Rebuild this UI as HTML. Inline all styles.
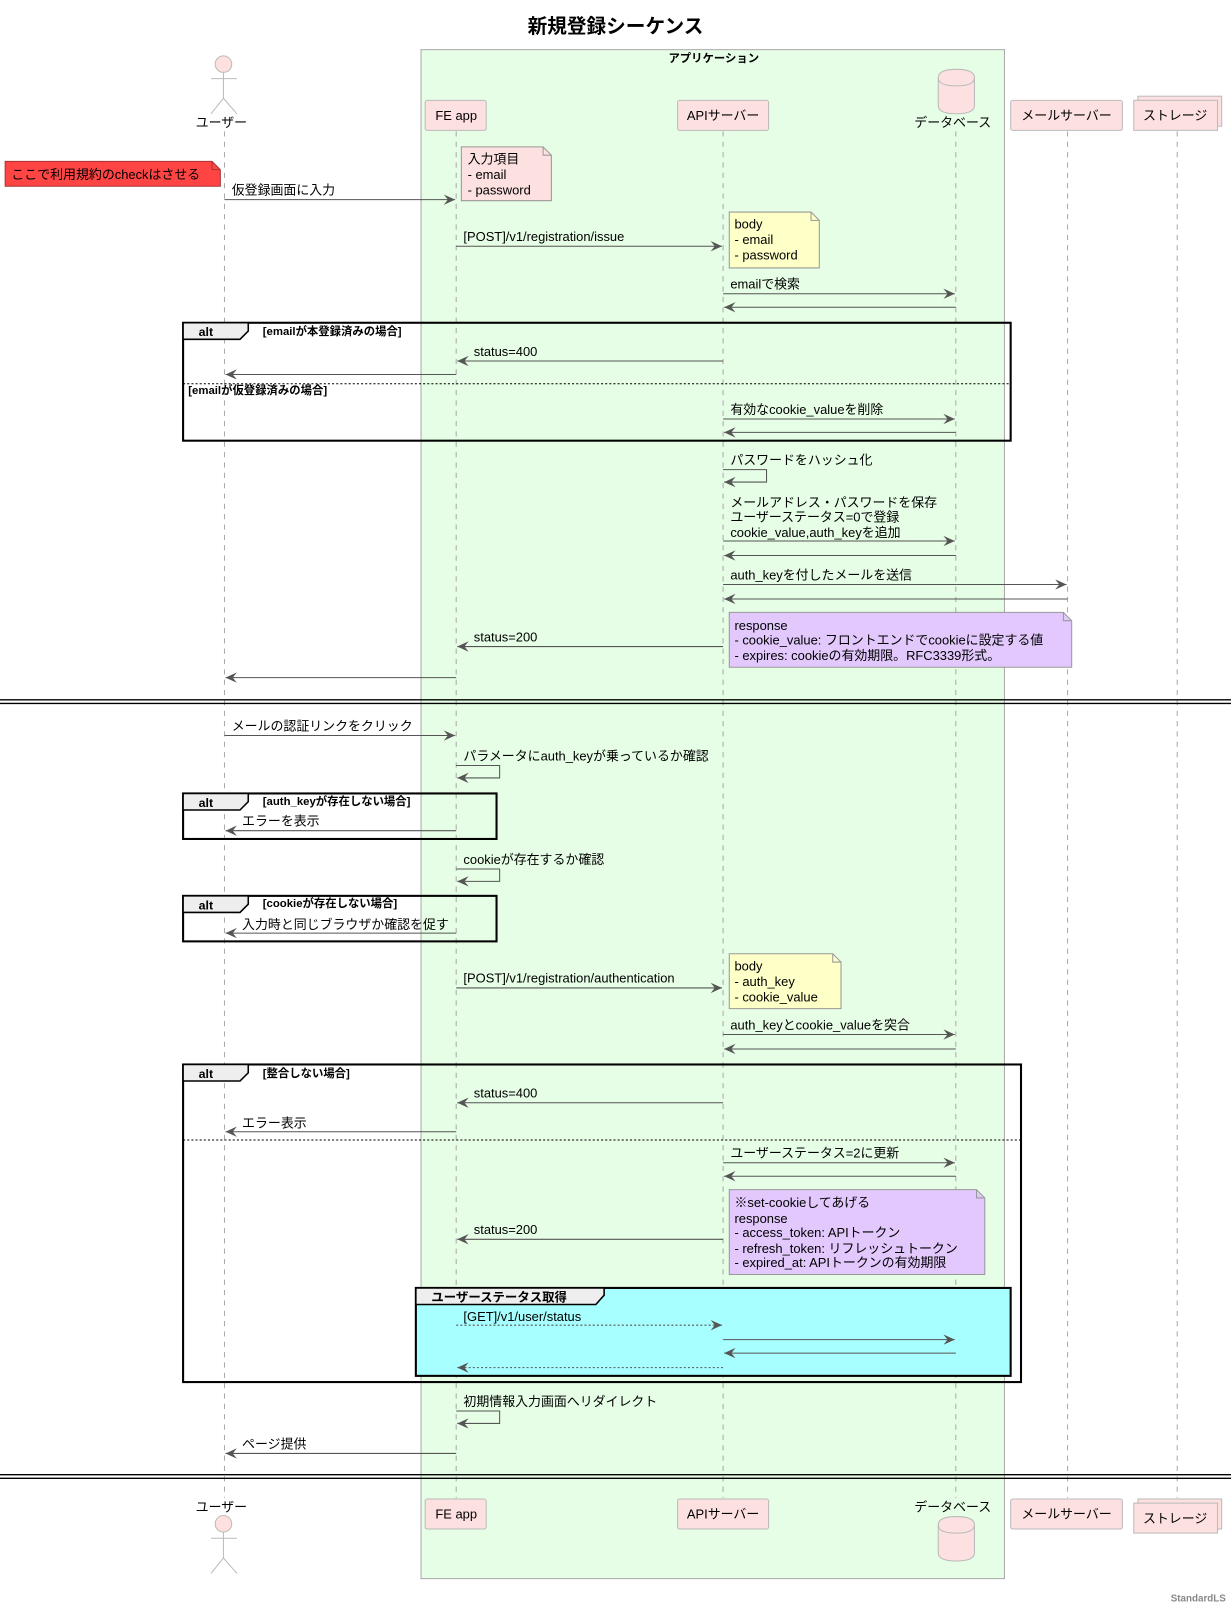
<!DOCTYPE html>
<html><head><meta charset="utf-8"><style>
html,body{margin:0;padding:0;background:#fff;}
svg{display:block;}
text{font-family:"Liberation Sans","Noto Sans CJK JP",sans-serif;font-size:12.5px;fill:#000;}
.b{font-weight:bold;}
.s{font-size:11px;font-weight:bold;}
.ll{stroke:#aaa;stroke-dasharray:5,5;stroke-width:1;}
.a{stroke:#555;stroke-width:1;fill:none;}
.d{stroke:#555;stroke-width:1;fill:none;stroke-dasharray:2,2;}
.p{fill:#fde0e0;stroke:#bbb;stroke-width:1;}
.fr{fill:none;stroke:#000;stroke-width:2;}
.tab{fill:#eee;stroke:#000;stroke-width:1.5;}
</style></head><body>
<svg width="1231" height="1620" viewBox="0 0 1190 1566" preserveAspectRatio="none" xmlns="http://www.w3.org/2000/svg">
<defs>
<marker id="ar" markerWidth="14" markerHeight="12" refX="11" refY="5" orient="auto" markerUnits="userSpaceOnUse">
<path d="M0,0 L11,5 L0,10 L4,5 Z" fill="#555"/>
</marker>
</defs>
<text x="595" y="32" text-anchor="middle" class="b" style="font-size:19px">新規登録シーケンス</text>

<rect x="407" y="48" width="564" height="1478" fill="#e6fde6" stroke="#aaa"/>
<text x="690" y="60" text-anchor="middle" class="s">アプリケーション</text>

<line class="ll" x1="217" y1="127" x2="217" y2="1448"/>
<line class="ll" x1="441" y1="127" x2="441" y2="1448"/>
<line class="ll" x1="699" y1="127" x2="699" y2="1448"/>
<line class="ll" x1="924" y1="127" x2="924" y2="1448"/>
<line class="ll" x1="1032" y1="127" x2="1032" y2="1448"/>
<line class="ll" x1="1138" y1="127" x2="1138" y2="1448"/>

<g stroke="#bbb" fill="#fde0e0">
<circle cx="216" cy="62" r="8"/>
<line x1="216" y1="70" x2="216" y2="95"/><line x1="204" y1="76" x2="229" y2="76"/>
<line x1="216" y1="95" x2="204" y2="110"/><line x1="216" y1="95" x2="229" y2="110"/>
</g>
<text x="214" y="123" text-anchor="middle">ユーザー</text>
<rect class="p" x="411" y="97" width="59" height="29" rx="2"/><text x="441" y="116" text-anchor="middle">FE app</text>
<rect class="p" x="655" y="97" width="88" height="29" rx="2"/><text x="699" y="116" text-anchor="middle">APIサーバー</text>
<path class="p" d="M907,75 Q907,67 924.5,67 Q942,67 942,75 L942,102 Q942,110 924.5,110 Q907,110 907,102 Z"/>
<path d="M907,75 Q907,83 924.5,83 Q942,83 942,75" fill="none" stroke="#bbb"/>
<text x="921" y="123" text-anchor="middle">データベース</text>
<rect class="p" x="977" y="97" width="108" height="29" rx="2"/><text x="1031" y="116" text-anchor="middle">メールサーバー</text>
<rect class="p" x="1100" y="93" width="81" height="29"/>
<rect class="p" x="1096" y="97" width="81" height="29"/><text x="1136" y="116" text-anchor="middle">ストレージ</text>

<path d="M5,156 L205,156 L213,164 L213,180 L5,180 Z" fill="#ff4444" stroke="#a33"/>
<path d="M205,156 L205,164 L213,164" fill="none" stroke="#a33"/>
<text x="11" y="173">ここで利用規約のcheckはさせる</text>

<path d="M446,142 L525,142 L533,150 L533,194 L446,194 Z" fill="#fde0e0" stroke="#999"/>
<path d="M525,142 L525,150 L533,150" fill="none" stroke="#999"/>
<text x="452" y="158">入力項目</text><text x="452" y="173">- email</text><text x="452" y="188">- password</text>

<line class="a" x1="217" y1="193" x2="440" y2="193" marker-end="url(#ar)"/><text x="224" y="188">仮登録画面に入力</text>
<line class="a" x1="441" y1="238" x2="698" y2="238" marker-end="url(#ar)"/><text x="448" y="233">[POST]/v1/registration/issue</text>
<path d="M705,205 L784,205 L792,213 L792,259 L705,259 Z" fill="#ffffc8" stroke="#999"/>
<path d="M784,205 L784,213 L792,213" fill="none" stroke="#999"/>
<text x="710" y="221">body</text><text x="710" y="236">- email</text><text x="710" y="251">- password</text>

<line class="a" x1="699" y1="284" x2="923" y2="284" marker-end="url(#ar)"/><text x="706" y="279">emailで検索</text>
<line class="a" x1="924" y1="297" x2="700" y2="297" marker-end="url(#ar)"/>

<rect class="fr" x="177" y="312" width="800" height="114"/>
<path class="tab" d="M177,312 L240,312 L240,320 L232,328 L177,328 Z"/>
<text x="192" y="325" class="b" style="font-size:12px">alt</text>
<text x="254" y="324" class="s">[emailが本登録済みの場合]</text>
<line class="a" x1="699" y1="349" x2="442" y2="349" marker-end="url(#ar)"/><text x="458" y="344">status=400</text>
<line class="a" x1="441" y1="362" x2="218" y2="362" marker-end="url(#ar)"/>
<line x1="177" y1="371" x2="977" y2="371" stroke="#000" stroke-dasharray="2,2"/>
<text x="182" y="381" class="s">[emailが仮登録済みの場合]</text>
<line class="a" x1="699" y1="405" x2="923" y2="405" marker-end="url(#ar)"/><text x="706" y="400">有効なcookie_valueを削除</text>
<line class="a" x1="924" y1="418" x2="700" y2="418" marker-end="url(#ar)"/>

<path class="a" d="M699,454 L741,454 L741,466 L700,466" marker-end="url(#ar)"/><text x="706" y="449">パスワードをハッシュ化</text>
<text x="706" y="490">メールアドレス・パスワードを保存</text><text x="706" y="504">ユーザーステータス=0で登録</text><text x="706" y="519">cookie_value,auth_keyを追加</text>
<line class="a" x1="699" y1="523" x2="923" y2="523" marker-end="url(#ar)"/>
<line class="a" x1="924" y1="537" x2="700" y2="537" marker-end="url(#ar)"/>
<line class="a" x1="699" y1="565" x2="1031" y2="565" marker-end="url(#ar)"/><text x="706" y="560">auth_keyを付したメールを送信</text>
<line class="a" x1="1032" y1="579" x2="700" y2="579" marker-end="url(#ar)"/>

<path d="M705,592 L1028,592 L1036,600 L1036,645 L705,645 Z" fill="#e2c8fd" stroke="#999"/>
<path d="M1028,592 L1028,600 L1036,600" fill="none" stroke="#999"/>
<text x="710" y="609">response</text><text x="710" y="623">- cookie_value: フロントエンドでcookieに設定する値</text><text x="710" y="638">- expires: cookieの有効期限。RFC3339形式。</text>
<line class="a" x1="699" y1="625" x2="442" y2="625" marker-end="url(#ar)"/><text x="458" y="620">status=200</text>
<line class="a" x1="441" y1="655" x2="218" y2="655" marker-end="url(#ar)"/>

<line x1="0" y1="676.5" x2="1190" y2="676.5" stroke="#000" stroke-width="1.3"/>
<line x1="0" y1="680" x2="1190" y2="680" stroke="#000" stroke-width="1.3"/>

<line class="a" x1="217" y1="711" x2="440" y2="711" marker-end="url(#ar)"/><text x="224" y="706">メールの認証リンクをクリック</text>
<path class="a" d="M441,740 L483,740 L483,752 L442,752" marker-end="url(#ar)"/><text x="448" y="735">パラメータにauth_keyが乗っているか確認</text>

<rect class="fr" x="177" y="767" width="303" height="44"/>
<path class="tab" d="M177,767 L240,767 L240,775 L232,783 L177,783 Z"/>
<text x="192" y="780" class="b" style="font-size:12px">alt</text>
<text x="254" y="778" class="s">[auth_keyが存在しない場合]</text>
<line class="a" x1="441" y1="803" x2="218" y2="803" marker-end="url(#ar)"/><text x="234" y="798">エラーを表示</text>

<path class="a" d="M441,840 L483,840 L483,852 L442,852" marker-end="url(#ar)"/><text x="448" y="835">cookieが存在するか確認</text>

<rect class="fr" x="177" y="866" width="303" height="44"/>
<path class="tab" d="M177,866 L240,866 L240,874 L232,882 L177,882 Z"/>
<text x="192" y="879" class="b" style="font-size:12px">alt</text>
<text x="254" y="877" class="s">[cookieが存在しない場合]</text>
<line class="a" x1="441" y1="902" x2="218" y2="902" marker-end="url(#ar)"/><text x="234" y="898">入力時と同じブラウザか確認を促す</text>

<line class="a" x1="441" y1="955" x2="698" y2="955" marker-end="url(#ar)"/><text x="448" y="950">[POST]/v1/registration/authentication</text>
<path d="M705,922 L805,922 L813,930 L813,975 L705,975 Z" fill="#ffffc8" stroke="#999"/>
<path d="M805,922 L805,930 L813,930" fill="none" stroke="#999"/>
<text x="710" y="938">body</text><text x="710" y="953">- auth_key</text><text x="710" y="968">- cookie_value</text>

<line class="a" x1="699" y1="1000" x2="923" y2="1000" marker-end="url(#ar)"/><text x="706" y="995">auth_keyとcookie_valueを突合</text>
<line class="a" x1="924" y1="1014" x2="700" y2="1014" marker-end="url(#ar)"/>

<rect class="fr" x="177" y="1029" width="810" height="307"/>
<path class="tab" d="M177,1029 L240,1029 L240,1037 L232,1045 L177,1045 Z"/>
<text x="192" y="1042" class="b" style="font-size:12px">alt</text>
<text x="254" y="1041" class="s">[整合しない場合]</text>
<line class="a" x1="699" y1="1066" x2="442" y2="1066" marker-end="url(#ar)"/><text x="458" y="1061">status=400</text>
<line class="a" x1="441" y1="1094" x2="218" y2="1094" marker-end="url(#ar)"/><text x="234" y="1090">エラー表示</text>
<line x1="177" y1="1102" x2="987" y2="1102" stroke="#000" stroke-dasharray="2,2"/>
<line class="a" x1="699" y1="1124" x2="923" y2="1124" marker-end="url(#ar)"/><text x="706" y="1119">ユーザーステータス=2に更新</text>
<line class="a" x1="924" y1="1137" x2="700" y2="1137" marker-end="url(#ar)"/>
<path d="M705,1150 L944,1150 L952,1158 L952,1232 L705,1232 Z" fill="#e2c8fd" stroke="#999"/>
<path d="M944,1150 L944,1158 L952,1158" fill="none" stroke="#999"/>
<text x="710" y="1167">※set-cookieしてあげる</text><text x="710" y="1182">response</text><text x="710" y="1196">- access_token: APIトークン</text><text x="710" y="1211">- refresh_token: リフレッシュトークン</text><text x="710" y="1225">- expired_at: APIトークンの有効期限</text>
<line class="a" x1="699" y1="1198" x2="442" y2="1198" marker-end="url(#ar)"/><text x="458" y="1193">status=200</text>

<rect x="402" y="1245" width="575" height="85" fill="#a8ffff" stroke="#000" stroke-width="2"/>
<path class="tab" d="M402,1245 L584,1245 L584,1252 L576,1261 L402,1261 Z"/>
<text x="417" y="1258" class="b" style="font-size:12px">ユーザーステータス取得</text>
<line class="d" x1="441" y1="1281" x2="698" y2="1281" marker-end="url(#ar)"/><text x="448" y="1277">[GET]/v1/user/status</text>
<line class="a" x1="699" y1="1295" x2="923" y2="1295" marker-end="url(#ar)"/>
<line class="a" x1="924" y1="1308" x2="700" y2="1308" marker-end="url(#ar)"/>
<line class="d" x1="699" y1="1322" x2="442" y2="1322" marker-end="url(#ar)"/>

<path class="a" d="M441,1364 L483,1364 L483,1376 L442,1376" marker-end="url(#ar)"/><text x="448" y="1359">初期情報入力画面へリダイレクト</text>
<line class="a" x1="441" y1="1405" x2="218" y2="1405" marker-end="url(#ar)"/><text x="234" y="1400">ページ提供</text>

<line x1="0" y1="1425.5" x2="1190" y2="1425.5" stroke="#000" stroke-width="1.3"/>
<line x1="0" y1="1429" x2="1190" y2="1429" stroke="#000" stroke-width="1.3"/>

<text x="214" y="1461" text-anchor="middle">ユーザー</text>
<g stroke="#bbb" fill="#fde0e0">
<circle cx="216" cy="1473" r="8"/>
<line x1="216" y1="1481" x2="216" y2="1506"/><line x1="204" y1="1487" x2="229" y2="1487"/>
<line x1="216" y1="1506" x2="204" y2="1521"/><line x1="216" y1="1506" x2="229" y2="1521"/>
</g>
<rect class="p" x="411" y="1449" width="59" height="29" rx="2"/><text x="441" y="1468" text-anchor="middle">FE app</text>
<rect class="p" x="655" y="1449" width="88" height="29" rx="2"/><text x="699" y="1468" text-anchor="middle">APIサーバー</text>
<text x="921" y="1461" text-anchor="middle">データベース</text>
<path class="p" d="M907,1474 Q907,1466 924.5,1466 Q942,1466 942,1474 L942,1501 Q942,1509 924.5,1509 Q907,1509 907,1501 Z"/>
<path d="M907,1474 Q907,1482 924.5,1482 Q942,1482 942,1474" fill="none" stroke="#bbb"/>
<rect class="p" x="977" y="1449" width="108" height="29" rx="2"/><text x="1031" y="1468" text-anchor="middle">メールサーバー</text>
<rect class="p" x="1100" y="1449" width="81" height="29"/>
<rect class="p" x="1096" y="1453" width="81" height="29"/><text x="1136" y="1472" text-anchor="middle">ストレージ</text>

<text x="1185" y="1548" text-anchor="end" style="font-size:9.5px;font-weight:bold;fill:#888">StandardLS</text>
</svg>
</body></html>
